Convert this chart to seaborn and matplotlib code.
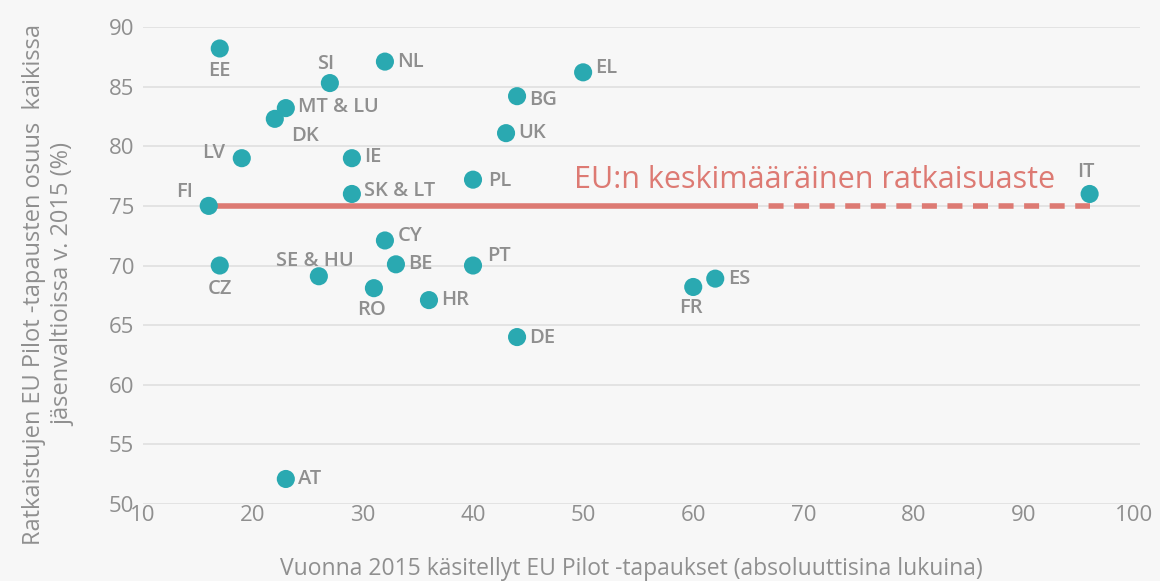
import matplotlib
matplotlib.use("Agg")
import matplotlib.pyplot as plt
import seaborn as sns
import pandas as pd

# EU Pilot cases handled in 2015 vs. share resolved
countries = ["EE", "NL", "SI", "EL", "BG", "MT & LU", "DK", "UK", "LV", "IE",
             "PL", "SK & LT", "FI", "IT", "CY", "CZ", "SE & HU", "BE", "PT",
             "RO", "HR", "FR", "ES", "DE", "AT"]
cases = [17, 32, 27, 50, 44, 23, 22, 43, 19, 29,
         40, 29, 16, 96, 32, 17, 26, 33, 40,
         31, 36, 60, 62, 44, 23]
resolved = [88.2, 87.1, 85.3, 86.2, 84.2, 83.2, 82.3, 81.1, 79.0, 79.0,
            77.2, 76.0, 75.0, 76.0, 72.1, 70.0, 69.1, 70.1, 70.0,
            68.1, 67.1, 68.2, 68.9, 64.0, 52.1]
# label offsets (points) relative to marker
offsets = [(0, -16), (9, 0), (-3, 14), (9, 3), (9, -3), (9, 1), (12, -12), (9, 0), (-12, 4), (9, 1),
           (11, -1), (9, 2), (-11, 10), (-3, 16), (9, 3), (0, -17), (-3, 11), (9, 0), (10, 7),
           (-2, -16), (9, 0), (-2, -15), (9, 0), (9, -1), (9, 0)]

eu_avg = 75
avg_start, avg_solid_end, avg_end = 16, 64.5, 96
avg_label = "EU:n keskimääräinen ratkaisuaste"

df = pd.DataFrame({"country": countries, "cases": cases, "resolved": resolved})

BG = "#f7f7f7"
GREY = "#8f8f8f"
TEAL = "#2aa9b1"
SALMON = "#dd7a73"

sns.set_theme(style="whitegrid")
plt.rcParams["font.family"] = ["Open Sans", "DejaVu Sans"]

fig = plt.figure(figsize=(11.6, 5.81), dpi=100, facecolor=BG)
ax = fig.add_axes([0.123, 0.1325, 0.86, 0.821])
ax.set_facecolor(BG)

# average line: solid then dashed
ax.plot([avg_start, avg_solid_end], [eu_avg, eu_avg], color=SALMON, lw=4, solid_capstyle="butt", zorder=2)
ax.plot([avg_solid_end, avg_end], [eu_avg, eu_avg], color=SALMON, lw=4, ls=(0, (2.7, 1.9)), zorder=2)
ax.text(71.0, 75.9, avg_label, color=SALMON, fontsize=22, ha="center", va="bottom")

sns.scatterplot(data=df, x="cases", y="resolved", ax=ax, color=TEAL, s=170,
                edgecolor="none", zorder=3)

for name, x, y, (dx, dy) in zip(countries, cases, resolved, offsets):
    ha = "left" if dx > 5 else ("right" if dx < -10 else "center")
    ax.annotate(name, (x, y), xytext=(dx, dy), textcoords="offset points",
                ha=ha, va="center", color=GREY, fontsize=14.5, fontweight="semibold")

ax.set_xlim(10, 100.6)
ax.set_ylim(50, 90)
ax.set_xticks(range(10, 101, 10))
ax.set_yticks(range(50, 91, 5))
ax.grid(axis="x", visible=False)
ax.grid(axis="y", color="#e0e0e0", lw=1.2)
for s in ax.spines.values():
    s.set_visible(False)
ax.tick_params(axis="both", colors=GREY, labelsize=16, length=0)
ax.tick_params(axis="y", pad=6)
ax.tick_params(axis="x", pad=1)

ax.set_xlabel("Vuonna 2015 käsitellyt EU Pilot -tapaukset (absoluuttisina lukuina)",
              color=GREY, fontsize=16.5)
ax.xaxis.set_label_coords(0.49, -0.112)
ax.set_ylabel("Ratkaistujen EU Pilot -tapausten osuus  kaikissa\njäsenvaltioissa v. 2015 (%)",
              color=GREY, fontsize=17, linespacing=1.25)
ax.yaxis.set_label_coords(-0.068, 0.46)

fig.savefig("out.png", dpi=100, facecolor=BG)
